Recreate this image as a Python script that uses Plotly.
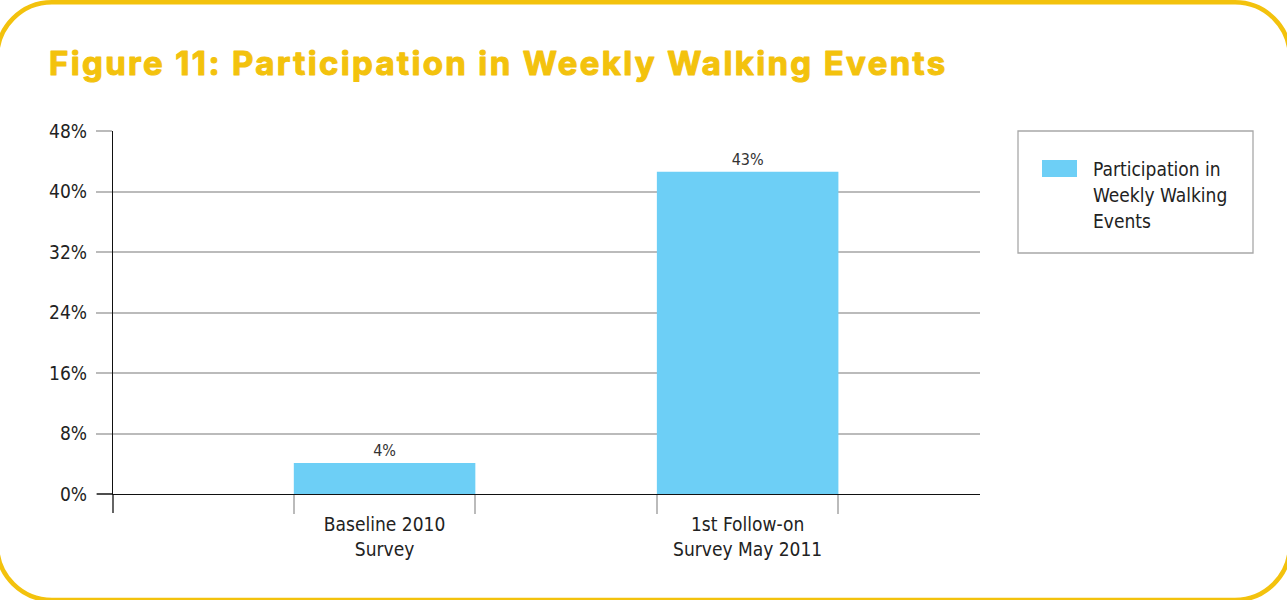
import plotly.graph_objects as go

# ---- data ----
categories = ["Baseline 2010<br>Survey", "1st Follow-on<br>Survey May 2011"]
cat_positions = [1, 2]
values = [4.1, 42.6]
series_name = "Participation in Weekly Walking Events"
legend_lines = ["Participation in", "Weekly Walking", "Events"]
y_ticks = [0, 8, 16, 24, 32, 40, 48]
y_tick_labels = ["0%", "8%", "16%", "24%", "32%", "40%", "48%"]
title_text = "Figure 11: Participation in Weekly Walking Events"

# ---- layout geometry (pixels) ----
W, H = 1287, 600
L, R, T, B = 113, 307, 131, 106
PW = W - L - R
PH = H - T - B


def px(x):
    return (x - L) / PW


def py(y):
    return (H - B - y) / PH


YELLOW = "#F3C20D"
BLUE = "#6DCFF6"
GRID = "#BBBBBB"
TXT = "#222222"
FONT = "Liberation Sans Narrow, DejaVu Sans Condensed, sans-serif"
FS = 19

fig = go.Figure()
fig.add_trace(go.Bar(
    x=cat_positions, y=values, name=series_name, width=0.5,
    marker=dict(color=BLUE, line=dict(width=0)),
    texttemplate="%{y:.0f}%", textposition="outside",
    textfont=dict(size=16, color="#333333", family=FONT),
    cliponaxis=False, showlegend=False, hoverinfo="skip",
))

# rounded yellow frame
x0, x1, y0, y1, r = -3.0, 1290.0, 2.3, 600.0, 55.0
k = 0.5523 * r


def P(x, y):
    return f"{px(x):.5f},{py(y):.5f}"


path = (
    f"M {P(x0 + r, y0)} L {P(x1 - r, y0)} "
    f"C {P(x1 - r + k, y0)} {P(x1, y0 + r - k)} {P(x1, y0 + r)} "
    f"L {P(x1, y1 - r)} "
    f"C {P(x1, y1 - r + k)} {P(x1 - r + k, y1)} {P(x1 - r, y1)} "
    f"L {P(x0 + r, y1)} "
    f"C {P(x0 + r - k, y1)} {P(x0, y1 - r + k)} {P(x0, y1 - r)} "
    f"L {P(x0, y0 + r)} "
    f"C {P(x0, y0 + r - k)} {P(x0 + r - k, y0)} {P(x0 + r, y0)} Z"
)

shapes = [
    dict(type="path", xref="paper", yref="paper", path=path,
         line=dict(color=YELLOW, width=4.5), fillcolor="rgba(0,0,0,0)", layer="below"),
    # y-axis extension below zero
    dict(type="line", xref="paper", yref="paper", x0=0, x1=0, y0=py(494), y1=py(513),
         line=dict(color="#111111", width=1.3)),
    # black zero tick
    dict(type="line", xref="paper", yref="paper", x0=px(97), x1=0, y0=0, y1=0,
         line=dict(color="#111111", width=1.3)),
    # legend box
    dict(type="rect", xref="paper", yref="paper", x0=px(1018), x1=px(1253),
         y0=py(253), y1=py(131), line=dict(color="#A8A8A8", width=1.3),
         fillcolor="rgba(0,0,0,0)"),
    # legend swatch
    dict(type="rect", xref="paper", yref="paper", x0=px(1042), x1=px(1077),
         y0=py(177), y1=py(160), line=dict(width=0), fillcolor=BLUE),
]

annotations = [
    dict(text=f"<b>{title_text}</b>", xref="paper", yref="paper", x=px(49), y=py(63),
         xanchor="left", yanchor="middle", showarrow=False,
         font=dict(size=33, color=YELLOW, family="Inter, Roboto, DejaVu Sans", weight=900)),
]
for i, line in enumerate(legend_lines):
    annotations.append(dict(
        text=line, xref="paper", yref="paper", x=px(1091), y=py(169 + 26 * i),
        xanchor="left", yanchor="middle", align="left", showarrow=False,
        font=dict(size=FS, color=TXT, family=FONT)))

fig.update_layout(
    width=W, height=H,
    margin=dict(l=L, r=R, t=T, b=B, autoexpand=False),
    paper_bgcolor="white", plot_bgcolor="white",
    shapes=shapes, annotations=annotations,
    showlegend=False, hovermode=False,
    xaxis=dict(
        range=[0.252, 2.640], tickvals=cat_positions, ticktext=categories,
        ticks="", showgrid=False, zeroline=False,
        showline=True, linecolor="#111111", linewidth=1.3,
        tickfont=dict(size=FS, color=TXT, family=FONT),
        ticklabelstandoff=13,
        minor=dict(tickvals=[0.75, 1.25, 1.75, 2.25], ticks="outside", ticklen=19,
                   tickcolor=GRID, tickwidth=1.5, showgrid=False),
    ),
    yaxis=dict(
        range=[0, 48], tickvals=y_ticks, ticktext=y_tick_labels,
        ticks="outside", ticklen=16, tickcolor=GRID, tickwidth=1.5,
        showgrid=True, gridcolor=GRID, gridwidth=1.5, zeroline=False,
        showline=True, linecolor="#111111", linewidth=1.3,
        tickfont=dict(size=FS, color=TXT, family=FONT),
        ticklabelstandoff=5,
    ),
)

post = (
    "document.body.style.margin='0';document.body.style.padding='0';"
    "var t=document.querySelectorAll('.annotation-text');"
    "if(t.length){var el=t[0];el.style.letterSpacing='2.35px';"
    "el.style.stroke='" + YELLOW + "';el.style.strokeWidth='1.1px';"
    "el.style.strokeLinejoin='round';"
    "var bb=el.getBoundingClientRect();"
    "var tr=el.getAttribute('transform')||'';"
    "el.setAttribute('transform','translate('+(49-bb.left)+',0) '+tr);}"
)

fig.write_html("out.html", post_script=post, config={"displayModeBar": False})
